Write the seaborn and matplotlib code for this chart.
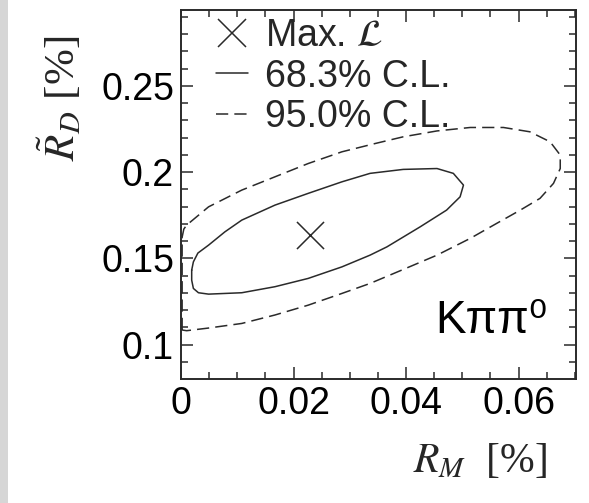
import numpy as np
import pandas as pd
import matplotlib
matplotlib.use('Agg')
import matplotlib.pyplot as plt
import seaborn as sns
from matplotlib.lines import Line2D
from matplotlib.patches import Rectangle
from matplotlib.ticker import MultipleLocator

# ---------------- data ----------------
max_like_x = [0.0229]
max_like_y = [0.1635]

cl68_x = [0.0019, 0.0022, 0.0030, 0.0049, 0.0078, 0.0108, 0.0167, 0.0226, 0.0286, 0.0336,
          0.0395, 0.0455, 0.0484, 0.0502, 0.0496, 0.0472, 0.0425, 0.0366, 0.0336, 0.0286,
          0.0226, 0.0167, 0.0108, 0.0049, 0.0031, 0.0022, 0.0019, 0.0019]
cl68_y = [0.1432, 0.1480, 0.1531, 0.1577, 0.1654, 0.1722, 0.1809, 0.1877, 0.1944, 0.1993,
          0.2016, 0.2021, 0.1993, 0.1925, 0.1857, 0.1780, 0.1683, 0.1567, 0.1519, 0.1451,
          0.1384, 0.1336, 0.1301, 0.1293, 0.1301, 0.1326, 0.1374, 0.1432]

cl95_x = [0.0002, 0.0002, 0.0005, 0.0010, 0.0049, 0.0108, 0.0167, 0.0226, 0.0286, 0.0345,
          0.0395, 0.0455, 0.0514, 0.0573, 0.0620, 0.0656, 0.0674, 0.0674, 0.0662, 0.0638,
          0.0603, 0.0561, 0.0514, 0.0455, 0.0395, 0.0336, 0.0286, 0.0226, 0.0167, 0.0108,
          0.0048, 0.0010, 0.0002]
cl95_y = [0.1085, 0.1623, 0.1670, 0.1693, 0.1799, 0.1896, 0.1973, 0.2050, 0.2118, 0.2166,
          0.2205, 0.2239, 0.2259, 0.2259, 0.2234, 0.2176, 0.2099, 0.2021, 0.1935, 0.1848,
          0.1780, 0.1703, 0.1616, 0.1519, 0.1436, 0.1355, 0.1297, 0.1229, 0.1172, 0.1123,
          0.1096, 0.1081, 0.1085]

legend_labels = [r'Max. $\mathcal{L}$', '68.3% C.L.', '95.0% C.L.']
x_ticks = [0, 0.02, 0.04, 0.06]
x_tick_labels = ['0', '0.02', '0.04', '0.06']
y_ticks = [0.1, 0.15, 0.2, 0.25]
y_tick_labels = ['0.1', '0.15', '0.2', '0.25']
channel_label = 'Kππ⁰'
x_label = r'$R_M$  [%]'
y_label = r'$\tilde{R}_D$ [%]'

# ---------------- style ----------------
sns.set_style('ticks')
plt.rcParams['font.family'] = ['Liberation Sans', 'DejaVu Sans']
plt.rcParams['mathtext.fontset'] = 'stix'

ink = '#2a2a2a'
lw = 1.1
dash = (0, (8, 4))

fig = plt.figure(figsize=(5.89, 5.03), dpi=100)
fig.patch.set_facecolor('white')
ax = fig.add_axes([181 / 589, 1 - 379 / 503, 395 / 589, 369 / 503])

df68 = pd.DataFrame({'x': cl68_x, 'y': cl68_y})
df95 = pd.DataFrame({'x': cl95_x, 'y': cl95_y})
sns.lineplot(data=df68, x='x', y='y', sort=False, estimator=None, color=ink, lw=lw, ax=ax)
sns.lineplot(data=df95, x='x', y='y', sort=False, estimator=None, color=ink, lw=lw,
             linestyle=dash, ax=ax)
sns.scatterplot(x=max_like_x, y=max_like_y, marker='x', s=380, color=ink, linewidth=lw, ax=ax)

ax.set_xlim(0, 0.0702)
ax.set_ylim(0.0801, 0.294)
ax.set_xticks(x_ticks, x_tick_labels)
ax.set_yticks(y_ticks, y_tick_labels)
ax.xaxis.set_minor_locator(MultipleLocator(0.005))
ax.yaxis.set_minor_locator(MultipleLocator(0.01))
ax.tick_params(which='both', direction='in', top=True, right=True, width=1.1, color=ink)
ax.tick_params(which='major', length=8.6, labelsize=27, pad=5, labelcolor='black')
ax.tick_params(which='minor', length=5)
for s in ax.spines.values():
    s.set_linewidth(1.4)
    s.set_color(ink)

serif = ['Liberation Serif', 'DejaVu Serif']
ax.set_xlabel(x_label, fontsize=30, family=serif, ha='right')
ax.xaxis.set_label_coords(0.927, -0.172)
ax.set_ylabel(y_label, fontsize=31, family=serif)
ax.yaxis.set_label_coords(-0.245, 0.76)

ax.text(0.787, 0.125, channel_label, transform=ax.transAxes, fontsize=33,
        ha='center', va='baseline', color='black')

handles = [
    Line2D([], [], marker='x', ls='none', ms=20, mew=lw, color=ink),
    Line2D([], [], color=ink, lw=lw),
    Line2D([], [], color=ink, lw=lw, ls=dash),
]
ax.legend(handles, legend_labels, loc='upper left', bbox_to_anchor=(0.089, 0.977),
          frameon=False, fontsize=27, handlelength=0.85, handletextpad=0.45,
          labelspacing=0.11, borderaxespad=0, borderpad=0)

# gray strip at the left edge of the screenshot
fig.add_artist(Rectangle((0, 0), 8 / 589, 1, transform=fig.transFigure,
                         facecolor='#d6d6d6', edgecolor='none', zorder=0))

fig.savefig('out.png', dpi=100)
